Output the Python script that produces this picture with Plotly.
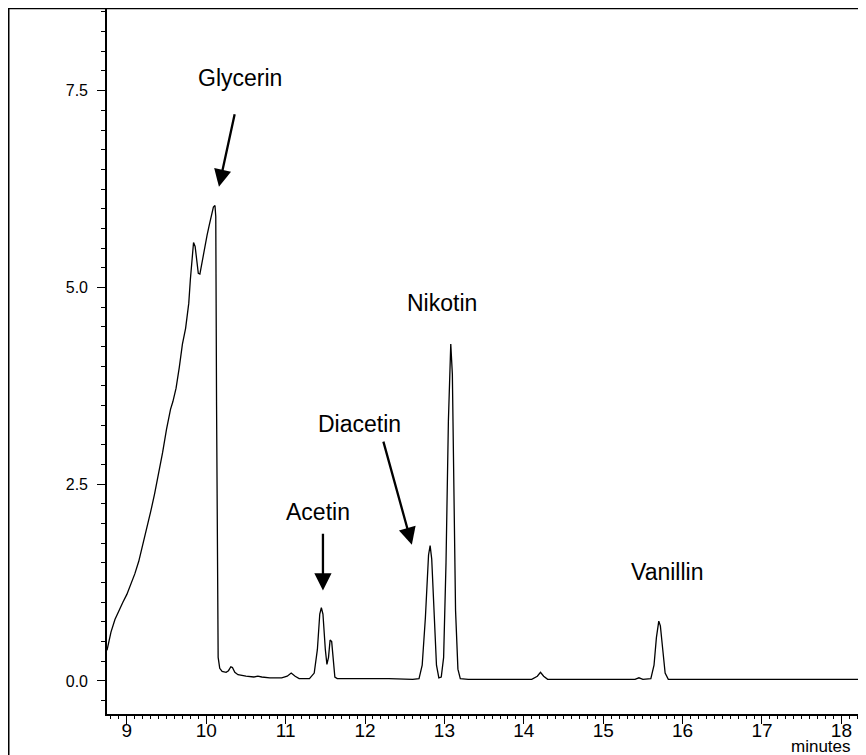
import plotly.graph_objects as go

# Chromatogram trace (time in minutes, signal)
time_min = [8.75, 8.80, 8.85, 8.90, 8.95, 9.00, 9.05, 9.10, 9.15, 9.20, 9.25, 9.30, 9.35, 9.40,
            9.45, 9.50, 9.55, 9.58, 9.62, 9.66, 9.70, 9.74, 9.78, 9.80, 9.82, 9.84, 9.86, 9.88,
            9.90, 9.92, 9.95, 9.98, 10.01, 10.04, 10.07, 10.09, 10.11, 10.12, 10.13, 10.14,
            10.15, 10.17, 10.20, 10.25, 10.28, 10.31, 10.33, 10.36, 10.40, 10.50, 10.60, 10.65,
            10.70, 10.80, 10.95, 11.02, 11.07, 11.12, 11.17, 11.30, 11.36, 11.40, 11.43, 11.45,
            11.47, 11.50, 11.52, 11.54, 11.56, 11.58, 11.60, 11.62, 11.65, 12.00, 12.30, 12.60,
            12.68, 12.72, 12.76, 12.80, 12.82, 12.84, 12.87, 12.90, 12.93, 12.96, 12.99, 13.02,
            13.05, 13.07, 13.08, 13.10, 13.12, 13.14, 13.17, 13.20, 13.30, 13.70, 14.10, 14.17,
            14.21, 14.25, 14.30, 15.40, 15.45, 15.50, 15.60, 15.64, 15.67, 15.70, 15.72, 15.75,
            15.78, 15.82, 18.31]
signal = [0.39, 0.62, 0.78, 0.90, 1.00, 1.10, 1.22, 1.36, 1.52, 1.72, 1.93, 2.15, 2.38, 2.63,
          2.90, 3.20, 3.45, 3.55, 3.72, 3.98, 4.28, 4.48, 4.80, 5.10, 5.40, 5.57, 5.52, 5.32,
          5.18, 5.17, 5.35, 5.52, 5.66, 5.80, 5.92, 6.02, 6.04, 5.90, 3.50, 1.20,
          0.30, 0.16, 0.12, 0.11, 0.13, 0.18, 0.17, 0.11, 0.08, 0.06, 0.05, 0.06,
          0.05, 0.04, 0.04, 0.06, 0.10, 0.06, 0.03, 0.03, 0.10, 0.40, 0.85, 0.93,
          0.85, 0.40, 0.21, 0.30, 0.52, 0.50, 0.25, 0.05, 0.03, 0.03, 0.03, 0.02,
          0.03, 0.20, 0.80, 1.60, 1.72, 1.55, 0.80, 0.20, 0.04, 0.05, 0.30, 1.50,
          3.30, 4.10, 4.28, 3.90, 2.40, 0.90, 0.15, 0.03, 0.02, 0.02, 0.02, 0.06,
          0.11, 0.06, 0.02, 0.02, 0.04, 0.02, 0.03, 0.20, 0.55, 0.76, 0.70, 0.40,
          0.10, 0.02, 0.02]

# Peak labels: text, label position, arrow tail, arrow head (None = no arrow)
peak_names = ["Glycerin", "Acetin", "Diacetin", "Nikotin", "Vanillin"]
label_x = [10.425, 11.41, 11.936, 12.97, 15.80]
label_y = [7.66, 2.15, 3.27, 4.80, 1.38]
arrow_tail = [(10.362, 7.22), (11.47, 1.89), (12.226, 3.06), None, None]
arrow_head = [(10.16, 6.28), (11.47, 1.15), (12.59, 1.73), None, None]

x_ticks = [9, 10, 11, 12, 13, 14, 15, 16, 17, 18]
y_ticks = [0.0, 2.5, 5.0, 7.5]
y_ticktext = ["0.0", "2.5", "5.0", "7.5"]

NARROW = "Liberation Sans Narrow, Arial Narrow, Liberation Sans"

fig = go.Figure()
fig.add_trace(go.Scatter(x=time_min, y=signal, mode="lines",
                         line=dict(color="black", width=1.3), hoverinfo="x+y",
                         showlegend=False))

ann = []
for i, name in enumerate(peak_names):
    ann.append(dict(x=label_x[i], y=label_y[i], xref="x", yref="y", text=name,
                    showarrow=False, font=dict(family="Liberation Sans, Arial", size=23,
                                               color="black")))
    if arrow_tail[i] is not None:
        ann.append(dict(x=arrow_head[i][0], y=arrow_head[i][1], ax=arrow_tail[i][0],
                        ay=arrow_tail[i][1], xref="x", yref="y", axref="x", ayref="y",
                        text="", showarrow=True, arrowhead=2, arrowsize=1.5,
                        arrowwidth=2.3, arrowcolor="black", standoff=0, startstandoff=0))

ann.append(dict(x=17.74, y=-0.0465, xref="x", yref="paper", text="minutes",
                showarrow=False, xanchor="center", yanchor="middle",
                font=dict(family=NARROW, size=17, color="black")))

shapes = [
    dict(type="line", xref="paper", yref="paper", x0=-0.1295, x1=1.05, y0=0.9992, y1=0.9992,
         line=dict(color="black", width=1.6)),
    dict(type="line", xref="paper", yref="paper", x0=-0.1295, x1=-0.1295, y0=1, y1=-0.1,
         line=dict(color="black", width=1.6)),
]

fig.update_layout(
    width=858, height=747,
    margin=dict(l=99, r=0, t=0, b=41),
    paper_bgcolor="white", plot_bgcolor="white",
    annotations=ann, shapes=shapes,
    xaxis=dict(range=[8.75, 18.31], showline=True, linecolor="black", linewidth=1.6,
               ticks="outside", ticklen=8, tickwidth=1, tickcolor="black",
               tickmode="array", tickvals=x_ticks, showgrid=False, zeroline=False,
               ticklabelstandoff=-10,
               tickfont=dict(family=NARROW, size=19, color="black"),
               minor=dict(ticks="outside", ticklen=3, tickcolor="black", dtick=0.1,
                          tick0=9, showgrid=False)),
    yaxis=dict(range=[-0.42, 8.55], showline=True, linecolor="black", linewidth=1.6,
               ticks="outside", ticklen=8, tickwidth=1, tickcolor="black",
               tickmode="array", tickvals=y_ticks, ticktext=y_ticktext,
               showgrid=False, zeroline=False, ticklabelstandoff=6,
               tickfont=dict(family="Liberation Sans, Arial", size=16, color="black"),
               minor=dict(ticks="outside", ticklen=4, tickcolor="black", dtick=0.25,
                          tick0=0, showgrid=False)),
)

fig.write_html("out.html")
